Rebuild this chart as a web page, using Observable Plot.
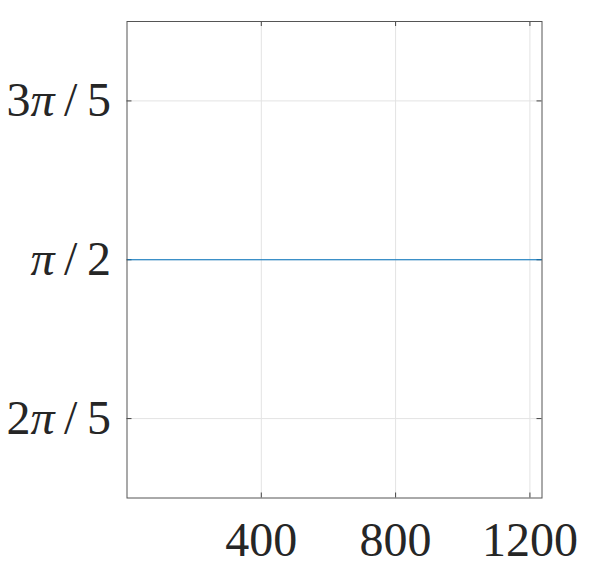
<!DOCTYPE html>
<html>
<head>
<meta charset="utf-8">
<script src="https://cdn.jsdelivr.net/npm/d3@7"></script>
<script src="https://cdn.jsdelivr.net/npm/@observablehq/plot@0.6"></script>
<style>
  html, body { margin: 0; padding: 0; background: #fff; }
  #chart svg { display: block; }
</style>
</head>
<body>
<div id="chart"></div>
<script>
// Data
const sampleIndex = [1, 1235];
const angleValues = [Math.PI / 2, Math.PI / 2];
const xTicks = [400, 800, 1200];
const xTickLabels = ["400", "800", "1200"];
const yTicks = [2 * Math.PI / 5, Math.PI / 2, 3 * Math.PI / 5];
const yTickLabels = ["2π/5", "π/2", "3π/5"];
const xDomain = [0, 1236];
const yDomain = [0.35 * Math.PI, 0.65 * Math.PI];

const series = sampleIndex.map((x, i) => ({x, y: angleValues[i]}));

const W = 598, H = 575;
const mL = 126.5, mR = 56.5, mT = 21, mB = 77.5;
const innerW = W - mL - mR, innerH = H - mT - mB;
const tickLen = 5;

const chart = Plot.plot({
  width: W,
  height: H,
  marginLeft: mL,
  marginRight: mR,
  marginTop: mT,
  marginBottom: mB,
  style: {fontFamily: "'Liberation Serif', serif", fontSize: "48px", background: "#fff", color: "#262626"},
  x: {domain: xDomain, label: null},
  y: {domain: yDomain, label: null},
  marks: [
    Plot.gridX(xTicks, {stroke: "#e3e3e3", strokeOpacity: 1, strokeWidth: 1}),
    Plot.gridY(yTicks, {stroke: "#e3e3e3", strokeOpacity: 1, strokeWidth: 1}),
    Plot.axisX(xTicks, {tickSize: 0, tickPadding: 24, fontSize: 48, fill: "#262626", label: null,
      tickFormat: d => xTickLabels[xTicks.indexOf(d)]}),
    Plot.axisY(yTicks, {tickSize: 0, tickPadding: 16, fontSize: 48, fill: "#262626", label: null,
      tickFormat: d => yTickLabels[yTicks.indexOf(d)]}),
    // inward tick marks
    Plot.tickX(xTicks, {x: d => d, insetTop: innerH - tickLen, stroke: "#444"}),
    Plot.tickX(xTicks, {x: d => d, insetBottom: innerH - tickLen, stroke: "#444"}),
    Plot.tickY(yTicks, {y: d => d, insetRight: innerW - tickLen, stroke: "#444"}),
    Plot.tickY(yTicks, {y: d => d, insetLeft: innerW - tickLen, stroke: "#444"}),
    Plot.line(series, {x: "x", y: "y", stroke: "#0072BD", strokeWidth: 1}),
    Plot.frame({stroke: "#555", strokeWidth: 1})
  ]
});

// italic π and wider slash spacing in y tick labels (LaTeX style)
chart.querySelectorAll('g[aria-label="y-axis tick label"] text').forEach(t => {
  const s = t.textContent;
  t.textContent = "";
  let prevSlash = false;
  for (const ch of s) {
    const ts = document.createElementNS("http://www.w3.org/2000/svg", "tspan");
    ts.textContent = ch;
    if (ch === "π") ts.setAttribute("font-style", "italic");
    if (ch === "/") ts.setAttribute("dx", "0.2em");
    if (prevSlash) ts.setAttribute("dx", "0.2em");
    prevSlash = ch === "/";
    t.appendChild(ts);
  }
});

document.getElementById("chart").appendChild(chart);
</script>
</body>
</html>
